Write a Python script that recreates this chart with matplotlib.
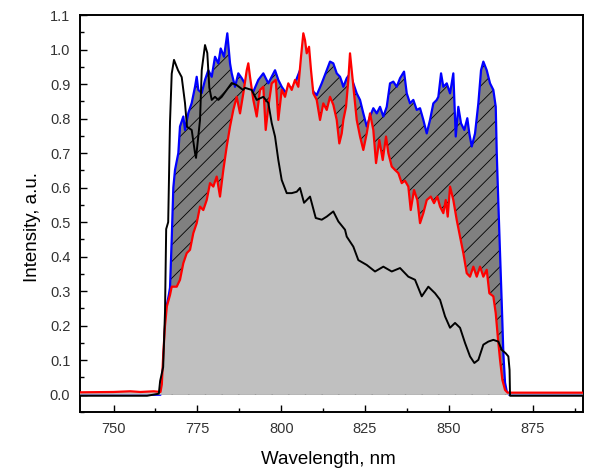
"""Emission spectra: blue envelope (hatched), red spectrum (filled) and black spectrum."""

import matplotlib

matplotlib.use("Agg")
import matplotlib.pyplot as plt
from matplotlib.ticker import MultipleLocator

# blue spectrum (upper envelope)
wl_blue = [
    740.0, 764.0, 764.5, 765.0, 765.4, 765.9, 766.5, 766.84, 767.35, 767.83,
    768.33, 769.32, 769.82, 770.81, 771.32, 772.30, 773.31, 774.30, 774.80, 775.28,
    776.30, 777.28, 778.26, 779.28, 780.26, 781.25, 781.96, 782.95, 783.93, 784.74,
    785.24, 786.23, 787.21, 788.23, 789.72, 790.70, 791.69, 793.18, 794.67, 796.16,
    798.16, 799.14, 800.16, 801.14, 802.50, 804.00, 806.00, 808.00, 809.58, 810.59,
    812.08, 813.58, 814.56, 815.54, 816.56, 817.54, 818.05, 818.53, 819.54, 820.50,
    821.51, 822.52, 823.51, 824.49, 825.51, 826.49, 827.47, 828.49, 829.47, 830.46,
    831.47, 832.45, 833.44, 834.45, 835.44, 836.63, 837.44, 838.42, 839.40, 840.42,
    841.40, 842.39, 843.40, 844.38, 845.37, 846.38, 846.86, 847.67, 848.35, 849.37,
    850.35, 851.33, 852.05, 852.82, 853.63, 854.61, 855.50, 856.10, 856.82, 857.80,
    858.79, 859.59, 860.28, 861.29, 862.28, 863.26, 863.98, 864.28, 864.76, 865.26,
    865.77, 866.25, 866.75, 867.26, 868.0, 890.0,
]
int_blue = [
    0.0, 0.0, 0.03, 0.12, 0.20, 0.26, 0.29, 0.31, 0.45, 0.60,
    0.651, 0.700, 0.777, 0.806, 0.767, 0.816, 0.845, 0.892, 0.921, 0.883,
    0.874, 0.912, 0.940, 0.921, 0.979, 0.960, 1.003, 0.979, 1.047, 0.960,
    0.931, 0.892, 0.931, 0.917, 0.892, 0.880, 0.878, 0.912, 0.931, 0.902,
    0.940, 0.912, 0.892, 0.878, 0.880, 0.900, 0.950, 0.930, 0.878, 0.868,
    0.902, 0.940, 0.965, 0.960, 0.931, 0.921, 0.907, 0.892, 0.917, 0.930,
    0.902, 0.873, 0.854, 0.815, 0.777, 0.806, 0.830, 0.815, 0.834, 0.806,
    0.834, 0.902, 0.907, 0.892, 0.917, 0.936, 0.873, 0.844, 0.854, 0.825,
    0.830, 0.796, 0.757, 0.796, 0.844, 0.854, 0.863, 0.931, 0.892, 0.902,
    0.873, 0.931, 0.748, 0.834, 0.786, 0.767, 0.801, 0.757, 0.719, 0.757,
    0.844, 0.940, 0.965, 0.940, 0.902, 0.883, 0.834, 0.700, 0.555, 0.410,
    0.265, 0.120, 0.035, 0.010, 0.0, 0.0,
]

# red spectrum
wl_red = [
    740.0, 750.0, 755.0, 758.0, 762.0, 764.0, 764.4, 764.84, 765.35, 765.9,
    766.84, 767.35, 768.84, 769.82, 770.81, 771.82, 772.81, 773.79, 774.80, 775.79,
    776.77, 777.79, 778.77, 779.76, 780.77, 781.75, 782.74, 783.75, 784.74, 785.72,
    786.73, 787.72, 788.70, 789.72, 790.19, 790.70, 791.69, 792.70, 793.68, 794.67,
    795.38, 796.16, 797.17, 798.37, 799.14, 800.16, 801.14, 802.12, 803.14, 804.12,
    805.11, 805.91, 806.60, 807.10, 807.61, 808.30, 808.89, 809.58, 810.59, 811.58,
    812.56, 813.58, 814.56, 815.54, 816.56, 817.33, 818.05, 818.53, 819.33, 820.02,
    820.52, 821.03, 821.72, 822.52, 823.51, 824.49, 825.51, 826.49, 827.47, 828.28,
    829.26, 830.28, 831.26, 831.95, 832.96, 833.95, 834.93, 835.94, 836.90, 837.91,
    838.63, 839.61, 840.60, 841.40, 842.39, 843.40, 844.59, 845.58, 846.56, 847.37,
    848.35, 849.07, 849.66, 850.35, 851.33, 852.35, 853.33, 854.32, 855.33, 856.31,
    857.30, 858.31, 859.30, 860.28, 861.29, 862.07, 863.26, 863.98, 864.58, 865.26,
    865.95, 866.75, 867.50, 890.0,
]
int_red = [
    0.007, 0.008, 0.010, 0.008, 0.010, 0.008, 0.03, 0.12, 0.20, 0.256,
    0.289, 0.313, 0.313, 0.333, 0.381, 0.410, 0.420, 0.468, 0.497, 0.545,
    0.535, 0.564, 0.613, 0.603, 0.632, 0.574, 0.651, 0.719, 0.777, 0.825,
    0.863, 0.815, 0.873, 0.940, 0.960, 0.921, 0.854, 0.806, 0.883, 0.892,
    0.767, 0.834, 0.902, 0.912, 0.796, 0.883, 0.863, 0.902, 0.883, 0.912,
    0.892, 0.979, 1.047, 1.027, 0.989, 1.008, 0.940, 0.873, 0.854, 0.796,
    0.844, 0.825, 0.863, 0.840, 0.796, 0.728, 0.757, 0.796, 0.834, 0.912,
    0.989, 0.940, 0.873, 0.796, 0.748, 0.709, 0.757, 0.815, 0.767, 0.671,
    0.738, 0.680, 0.748, 0.700, 0.661, 0.651, 0.642, 0.613, 0.620, 0.603,
    0.535, 0.593, 0.564, 0.497, 0.526, 0.564, 0.574, 0.555, 0.574, 0.545,
    0.526, 0.564, 0.516, 0.603, 0.564, 0.506, 0.458, 0.410, 0.352, 0.342,
    0.371, 0.342, 0.371, 0.342, 0.362, 0.294, 0.285, 0.236, 0.169, 0.101,
    0.043, 0.014, 0.006, 0.006,
]

# black spectrum
wl_black = [
    740.0, 760.0, 763.5, 763.9, 764.8, 765.35, 765.7, 766.3, 766.84, 767.35,
    768.03, 769.23, 770.33, 771.31, 771.91, 773.31, 774.30, 774.60, 775.79, 776.30,
    777.28, 777.96, 778.56, 779.28, 780.26, 781.25, 782.26, 783.75, 785.24, 786.73,
    788.61, 789.20, 791.20, 792.70, 794.67, 796.16, 797.17, 798.16, 799.14, 800.15,
    801.65, 803.14, 804.63, 805.61, 806.81, 808.60, 810.30, 812.09, 813.58, 815.54,
    817.04, 819.03, 819.54, 821.51, 823.00, 825.50, 827.98, 830.46, 832.96, 835.44,
    837.91, 839.91, 841.91, 843.88, 845.88, 847.37, 848.86, 850.35, 851.84, 853.33,
    854.82, 856.31, 857.60, 858.79, 860.28, 861.77, 863.26, 864.75, 865.77, 866.96,
    867.74, 868.10, 868.24, 890.0,
]
int_black = [
    -0.003, -0.003, 0.003, 0.04, 0.08, 0.24, 0.48, 0.50, 0.79, 0.93,
    0.970, 0.940, 0.920, 0.845, 0.776, 0.767, 0.700, 0.686, 0.796, 0.940,
    1.013, 0.990, 0.890, 0.854, 0.863, 0.854, 0.863, 0.883, 0.903, 0.897,
    0.883, 0.889, 0.883, 0.854, 0.863, 0.845, 0.787, 0.748, 0.680, 0.622,
    0.584, 0.584, 0.588, 0.599, 0.556, 0.574, 0.512, 0.507, 0.516, 0.531,
    0.502, 0.478, 0.458, 0.429, 0.390, 0.376, 0.357, 0.371, 0.357, 0.367,
    0.342, 0.333, 0.285, 0.313, 0.294, 0.275, 0.227, 0.194, 0.208, 0.194,
    0.150, 0.111, 0.092, 0.101, 0.145, 0.154, 0.159, 0.154, 0.130, 0.120,
    0.111, 0.072, -0.003, -0.003,
]

plt.rcParams["font.family"] = ["Liberation Sans", "DejaVu Sans"]
plt.rcParams["hatch.linewidth"] = 0.6

fig = plt.figure(figsize=(5.9, 4.69), dpi=100)
ax = fig.add_axes([80 / 590, 1 - 412 / 469, 503 / 590, 397 / 469])

# hatched area under the blue envelope, light gray area under the red spectrum on top
ax.fill_between(wl_blue, int_blue, 0, facecolor="#808080", edgecolor="black",
                hatch="//", linewidth=0, zorder=1)
ax.plot(wl_blue, int_blue, color="#0000ff", linewidth=1.6, zorder=2)
ax.fill_between(wl_red, int_red, 0, facecolor="#c0c0c0", linewidth=0, zorder=3)
ax.plot(wl_red, int_red, color="#ff0000", linewidth=1.6, zorder=4)
ax.plot(wl_black, int_black, color="black", linewidth=1.4, zorder=5)

ax.set_xlim(740, 890)
ax.set_ylim(-0.05, 1.1)
ax.xaxis.set_major_locator(MultipleLocator(25))
ax.xaxis.set_minor_locator(MultipleLocator(12.5))
ax.yaxis.set_major_locator(MultipleLocator(0.1))
ax.yaxis.set_minor_locator(MultipleLocator(0.05))
ax.tick_params(which="both", direction="in", top=False, right=False,
               width=1.0, labelsize=10.5, labelcolor="#333333")
ax.tick_params(which="major", length=5, pad=7)
ax.tick_params(which="minor", length=3)
for spine in ax.spines.values():
    spine.set_linewidth(1.4)

ax.set_xlabel("Wavelength, nm", fontsize=13.5)
ax.set_ylabel("Intensity, a.u.", fontsize=13.5)
ax.xaxis.set_label_coords(0.494, -0.098)
ax.yaxis.set_label_coords(-0.078, 0.466)

fig.savefig("out.png", dpi=100)
